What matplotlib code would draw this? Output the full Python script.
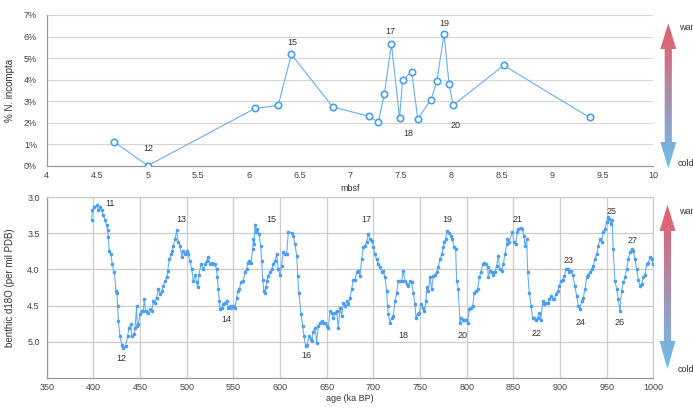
import matplotlib
matplotlib.use("Agg")
import matplotlib.pyplot as plt
import numpy as np
from matplotlib.patches import Polygon

plt.rcParams['font.family'] = ['Liberation Sans', 'DejaVu Sans']

# ---------------- data ----------------
# Top panel: % N. incompta vs depth (mbsf)
depth_mbsf = [4.67, 5.00, 6.06, 6.29, 6.42, 6.83, 7.19, 7.28, 7.34, 7.41, 7.49, 7.52,
              7.61, 7.67, 7.80, 7.86, 7.93, 7.98, 8.02, 8.52, 9.37]
pct_incompta = [1.10, 0.00, 2.66, 2.80, 5.17, 2.73, 2.29, 2.02, 3.35, 5.65, 2.21, 3.97,
                4.37, 2.18, 3.06, 3.94, 6.13, 3.78, 2.81, 4.66, 2.24]
top_labels = ["12", "15", "17", "18", "19", "20"]
top_label_x = [5.01, 6.43, 7.40, 7.58, 7.93, 8.04]
top_label_y = [0.79, 5.71, 6.24, 1.50, 6.62, 1.85]

# Bottom panel: benthic d18O vs age (ka BP)
age_ka = [398.2, 398.9, 401.0, 403.6, 405.3, 407.0, 408.9, 410.7, 412.5, 414.3, 415.4, 416.0,
          417.0, 418.9, 420.3, 422.4, 424.3, 425.2, 426.0, 426.8, 428.5, 430.4, 432.0, 434.6,
          436.8, 438.2, 440.3, 441.0, 443.5, 444.6, 446.4, 447.0, 448.2, 449.9, 451.8, 453.5,
          454.6, 456.0, 458.9, 460.7, 462.5, 464.3, 466.0, 467.9, 469.6, 471.4, 473.2, 475.0,
          476.7, 478.6, 479.6, 481.4, 483.2, 484.6, 485.7, 487.5, 489.3, 491.0, 492.9, 494.6,
          496.4, 498.2, 500.0, 501.7, 503.5, 505.4, 507.1, 509.0, 510.7, 511.8, 513.2, 515.4,
          517.8, 519.6, 521.4, 523.2, 525.0, 526.8, 528.6, 530.3, 532.0, 532.8, 533.9, 535.0,
          535.7, 537.5, 539.2, 541.0, 542.8, 544.6, 546.4, 548.0, 550.0, 551.8, 553.6, 554.6,
          556.4, 558.2, 560.7, 562.5, 564.3, 565.4, 566.8, 569.0, 570.7, 571.4, 572.3, 573.2,
          574.3, 575.7, 577.5, 579.3, 580.4, 581.4, 582.8, 583.9, 585.0, 585.7, 587.5, 589.3,
          591.0, 592.9, 594.6, 596.4, 598.2, 600.0, 601.7, 603.5, 605.4, 607.1, 608.9, 612.5,
          614.3, 616.0, 617.9, 619.0, 620.3, 622.5, 624.3, 625.7, 627.5, 629.3, 631.0, 632.9,
          633.9, 635.7, 637.5, 639.3, 641.0, 642.9, 644.6, 646.4, 648.2, 650.0, 651.8, 653.5,
          655.4, 657.1, 658.9, 660.7, 662.5, 664.3, 666.0, 667.9, 669.6, 671.4, 673.2, 675.0,
          676.8, 678.6, 680.4, 682.2, 683.9, 685.7, 687.5, 689.3, 691.0, 692.9, 694.6, 696.4,
          698.2, 700.0, 701.8, 703.5, 705.4, 707.1, 708.9, 710.7, 712.5, 714.3, 715.2, 716.0,
          717.9, 719.6, 721.4, 723.2, 725.0, 726.7, 728.6, 730.4, 732.1, 733.9, 735.7, 737.5,
          739.3, 741.0, 742.8, 744.6, 745.7, 747.5, 749.3, 751.0, 752.8, 754.6, 756.4, 757.1,
          758.9, 760.7, 762.5, 764.3, 766.0, 767.9, 769.6, 771.4, 773.2, 775.0, 776.0, 777.5,
          779.3, 781.0, 782.9, 784.6, 786.4, 788.2, 789.3, 791.0, 792.9, 793.9, 795.7, 797.5,
          799.3, 801.0, 802.8, 804.6, 806.4, 808.2, 810.0, 811.8, 813.5, 815.4, 817.1, 818.9,
          820.7, 822.5, 823.2, 825.0, 826.8, 828.6, 830.4, 832.1, 833.9, 835.7, 837.5, 839.3,
          841.0, 842.9, 843.6, 845.4, 848.9, 850.7, 852.5, 854.3, 855.3, 857.9, 859.6, 861.4,
          862.5, 864.3, 865.4, 867.1, 869.0, 870.7, 872.5, 874.3, 876.0, 877.9, 879.6, 881.4,
          883.2, 885.0, 886.8, 888.6, 890.4, 892.1, 893.9, 895.7, 897.5, 899.3, 901.0, 902.9,
          904.6, 906.4, 908.2, 910.0, 911.8, 913.6, 916.0, 917.9, 919.6, 921.4, 923.2, 925.0,
          926.8, 928.6, 930.4, 932.1, 933.9, 935.7, 937.5, 939.3, 941.0, 942.9, 944.6, 946.4,
          948.2, 950.0, 951.0, 952.9, 954.6, 956.0, 957.0, 958.9, 960.7, 962.5, 964.3, 966.0,
          967.9, 969.6, 971.4, 973.2, 975.0, 976.8, 978.6, 980.4, 982.1, 983.9, 985.7, 987.5,
          989.3, 991.0, 992.9, 994.6, 996.4, 998.2, 999.3]
d18o = [3.32, 3.18, 3.14, 3.11, 3.18, 3.14, 3.18, 3.25, 3.32, 3.39, 3.46, 3.55,
        3.74, 3.79, 3.93, 4.04, 4.30, 4.32, 4.51, 4.72, 4.92, 5.04, 5.09, 5.06,
        4.92, 4.81, 4.76, 4.92, 4.90, 4.81, 4.51, 4.78, 4.75, 4.62, 4.58, 4.57,
        4.41, 4.58, 4.60, 4.55, 4.58, 4.44, 4.46, 4.39, 4.27, 4.34, 4.30, 4.23,
        4.16, 4.11, 4.02, 3.86, 3.79, 3.74, 3.67, 3.58, 3.46, 3.62, 3.67, 3.83,
        3.74, 3.79, 3.74, 3.79, 3.88, 4.00, 4.16, 4.07, 4.18, 4.25, 4.07, 3.93,
        4.00, 3.93, 3.88, 3.83, 3.93, 3.91, 3.93, 3.93, 4.00, 4.11, 4.27, 4.44,
        4.55, 4.53, 4.48, 4.46, 4.44, 4.53, 4.51, 4.53, 4.51, 4.53, 4.39, 4.30,
        4.27, 4.18, 4.16, 4.04, 4.00, 3.91, 3.88, 3.91, 3.72, 3.58, 3.65, 3.39,
        3.48, 3.44, 3.51, 3.67, 3.88, 4.14, 4.30, 4.32, 4.25, 4.16, 4.09, 4.04,
        4.00, 3.93, 3.88, 3.79, 4.00, 4.07, 3.95, 3.76, 3.79, 3.79, 3.48, 3.50,
        3.53, 3.65, 3.81, 4.09, 4.32, 4.62, 4.79, 4.92, 5.06, 5.04, 4.92, 4.97,
        4.99, 4.86, 4.81, 5.02, 4.79, 4.74, 4.72, 4.74, 4.74, 4.79, 4.81, 4.58,
        4.60, 4.67, 4.60, 4.58, 4.81, 4.53, 4.65, 4.46, 4.51, 4.44, 4.48, 4.39,
        4.27, 4.14, 4.14, 4.04, 4.02, 4.09, 3.86, 3.69, 3.67, 3.62, 3.51, 3.58,
        3.60, 3.69, 3.79, 3.86, 3.93, 3.97, 4.04, 4.02, 4.11, 4.30, 4.51, 4.62,
        4.74, 4.67, 4.65, 4.44, 4.32, 4.16, 4.16, 4.16, 4.02, 4.16, 4.20, 4.23,
        4.16, 4.18, 4.32, 4.48, 4.67, 4.62, 4.60, 4.48, 4.53, 4.58, 4.44, 4.25,
        4.30, 4.11, 4.27, 4.09, 4.07, 4.04, 3.97, 3.86, 3.79, 3.69, 3.62, 3.58,
        3.47, 3.50, 3.53, 3.58, 3.69, 3.72, 4.16, 4.27, 4.74, 4.67, 4.70, 4.70,
        4.70, 4.74, 4.55, 4.53, 4.51, 4.32, 4.30, 4.27, 4.11, 4.04, 3.93, 3.91,
        3.93, 3.97, 4.11, 4.02, 4.04, 4.07, 4.04, 3.95, 3.81, 4.00, 4.02, 3.93,
        3.79, 3.65, 3.58, 3.62, 3.48, 3.62, 3.65, 3.48, 3.44, 3.42, 3.44, 3.53,
        3.67, 3.58, 4.04, 4.32, 4.51, 4.67, 4.67, 4.70, 4.67, 4.60, 4.70, 4.44,
        4.48, 4.46, 4.46, 4.41, 4.37, 4.41, 4.41, 4.34, 4.30, 4.23, 4.16, 4.14,
        4.09, 4.00, 4.00, 4.04, 4.02, 4.07, 4.23, 4.37, 4.51, 4.55, 4.44, 4.39,
        4.27, 4.11, 4.07, 4.04, 4.00, 3.95, 3.86, 3.79, 3.67, 3.58, 3.62, 3.48,
        3.44, 3.34, 3.27, 3.30, 3.37, 3.32, 3.72, 4.16, 4.27, 4.41, 4.58, 4.30,
        4.18, 4.11, 4.00, 3.86, 3.76, 3.72, 3.74, 3.86, 4.00, 4.14, 4.23, 4.20,
        4.11, 4.07, 3.93, 3.91, 3.83, 3.86, 3.93]
bot_labels = ["11", "12", "13", "14", "15", "16", "17", "18", "19", "20",
              "21", "22", "23", "24", "25", "26", "27"]
bot_label_x = [418.0, 429.6, 494.6, 542.8, 591.0, 628.6, 692.1, 732.0, 779.6, 795.7,
               854.7, 875.0, 908.9, 922.1, 955.3, 963.5, 977.9]
bot_label_y = [3.08, 5.24, 3.31, 4.70, 3.31, 5.19, 3.31, 4.91, 3.31, 4.91,
               3.31, 4.89, 3.88, 4.74, 3.20, 4.74, 3.60]

top_xticks = [4, 4.5, 5, 5.5, 6, 6.5, 7, 7.5, 8, 8.5, 9, 9.5, 10]
top_yticks = [0, 1, 2, 3, 4, 5, 6, 7]
bot_xticks = [350, 400, 450, 500, 550, 600, 650, 700, 750, 800, 850, 900, 950, 1000]
bot_yticks = [3.0, 3.5, 4.0, 4.5, 5.0]

# ---------------- figure ----------------
W, H = 693, 408
fig = plt.figure(figsize=(W / 100, H / 100), dpi=100)
fig.patch.set_facecolor('white')

LINE_C = '#6aaef0'
MARK_C = '#4a9ff0'
TICK_C = '#444444'
GRID_C = '#d6d6d6'
SPINE_C = '#9a9a9a'
FS = 6.5

# top axes
ax1 = fig.add_axes([46.7 / W, 1 - 165.7 / H, 606.6 / W, 150.7 / H])
ax1.plot(depth_mbsf, pct_incompta, color=LINE_C, lw=0.8, marker='o', ms=4.6,
         mfc='white', mec=MARK_C, mew=1.2, zorder=3)
ax1.set_xlim(4, 10)
ax1.set_ylim(0, 7)
ax1.set_xticks(top_xticks)
ax1.set_xticklabels([('%g' % v) for v in top_xticks])
ax1.set_yticks(top_yticks)
ax1.set_yticklabels(['%d%%' % v for v in top_yticks])
ax1.yaxis.grid(True, color=GRID_C, lw=0.8)
ax1.set_axisbelow(True)
for s in ['top', 'right']:
    ax1.spines[s].set_visible(False)
for s in ['left', 'bottom']:
    ax1.spines[s].set_color(SPINE_C)
    ax1.spines[s].set_linewidth(0.9)
ax1.tick_params(axis='both', length=0, labelsize=FS, colors=TICK_C)
ax1.tick_params(axis='x', pad=4)
ax1.tick_params(axis='y', pad=7)
ax1.set_xlabel('mbsf', fontsize=FS, color='#333333', labelpad=3)
ax1.set_ylabel('% N. incompta', fontsize=FS + 0.5, color='#333333', labelpad=6)
for t, x, y in zip(top_labels, top_label_x, top_label_y):
    ax1.text(x, y, t, fontsize=FS, color='#333333', ha='center', va='center')

# bottom axes
ax2 = fig.add_axes([46.7 / W, 1 - 377.7 / H, 606.6 / W, 180.4 / H])
ax2.plot(age_ka, d18o, color=LINE_C, lw=0.8, marker='o', ms=2.6,
         mfc=MARK_C, mec=MARK_C, mew=0, zorder=3)
ax2.set_xlim(350, 1000)
ax2.set_ylim(5.5, 3.0)
ax2.set_xticks(bot_xticks)
ax2.set_yticks(bot_yticks)
ax2.set_yticklabels(['%.1f' % v for v in bot_yticks])
ax2.grid(True, color='#cccccc', lw=0.9)
ax2.set_axisbelow(True)
for s in ['top', 'right']:
    ax2.spines[s].set_color('#cccccc')
    ax2.spines[s].set_linewidth(0.9)
for s in ['left', 'bottom']:
    ax2.spines[s].set_color(SPINE_C)
    ax2.spines[s].set_linewidth(0.9)
ax2.tick_params(axis='both', length=0, labelsize=FS, colors=TICK_C)
ax2.tick_params(axis='x', pad=4)
ax2.tick_params(axis='y', pad=5)
ax2.set_xlabel('age (ka BP)', fontsize=FS, color='#333333', labelpad=1.5)
ax2.set_ylabel('benthic d18O (per mil PDB)', fontsize=FS + 0.5, color='#333333', labelpad=9)
for t, x, y in zip(bot_labels, bot_label_x, bot_label_y):
    ax2.text(x, y, t, fontsize=FS, color='#333333', ha='center', va='center')

# overlay for gradient arrows (pixel coordinates)
ov = fig.add_axes([0, 0, 1, 1], zorder=10)
ov.set_xlim(0, W)
ov.set_ylim(H, 0)
ov.axis('off')
ov.patch.set_alpha(0)

red = np.array([232, 92, 104]) / 255.0
blue = np.array([108, 192, 238]) / 255.0


def grad_arrow(cx, ytop, yhead1, yhead2, ybot, hw=8.0, sw=3.6):
    pts = [(cx, ytop), (cx + hw, yhead1), (cx + sw, yhead1), (cx + sw, yhead2),
           (cx + hw, yhead2), (cx, ybot), (cx - hw, yhead2), (cx - sw, yhead2),
           (cx - sw, yhead1), (cx - hw, yhead1)]
    poly = Polygon(pts, closed=True, facecolor='none', edgecolor='none')
    ov.add_patch(poly)
    n = 256
    t = np.linspace(0, 1, n)[:, None]
    img = (red[None, :] * (1 - t) + blue[None, :] * t)[:, None, :]
    img = np.repeat(img, 2, axis=1)
    im = ov.imshow(img, extent=[cx - hw - 1, cx + hw + 1, ybot, ytop],
                   aspect='auto', interpolation='bilinear')
    im.set_clip_path(poly)


grad_arrow(668.3, 23.5, 49, 142, 168.5)
grad_arrow(667.5, 205, 231, 341, 369)

for (x, y, s) in [(679, 27, 'warm'), (678, 163, 'cold'), (679, 212, 'warm'), (678, 370, 'cold')]:
    ov.text(x, y, s, fontsize=FS, color='#333333', ha='left', va='center')

fig.savefig('out.png', dpi=100)
